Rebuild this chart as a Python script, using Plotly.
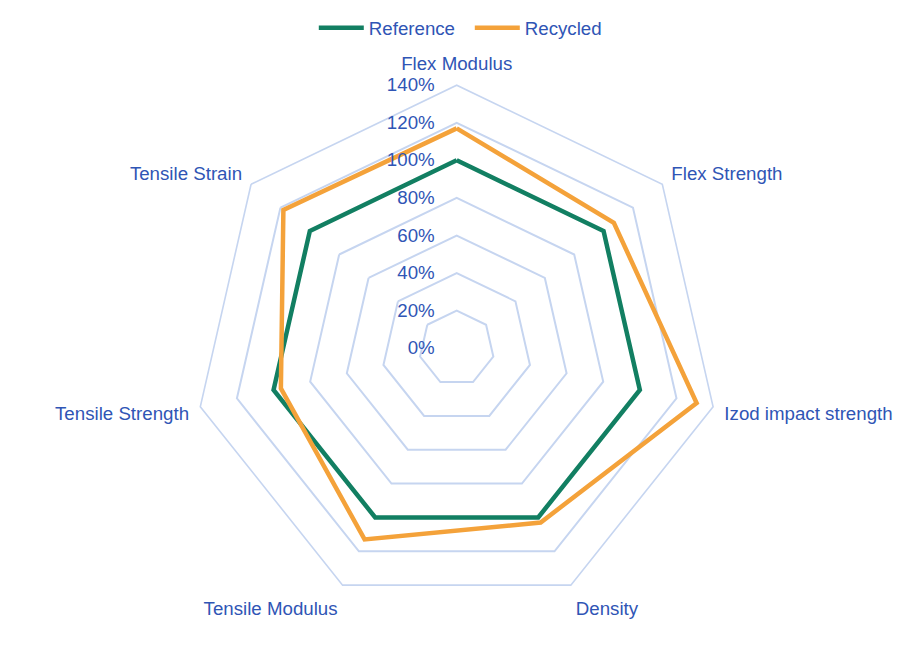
import plotly.graph_objects as go

categories = ["Flex Modulus", "Flex Strength", "Izod impact strength", "Density",
              "Tensile Modulus", "Tensile Strength", "Tensile Strain"]
reference = [100, 100, 100, 100, 100, 100, 100]
recycled = [117, 107, 131, 103, 113, 96, 118]
radial_ticks = [0, 20, 40, 60, 80, 100, 120, 140]
radial_labels = [f"{v}%" for v in radial_ticks]

TEXT = "#2F55B5"
GRID = "#C6D5F0"
FS = 18.7

def closed(vals):
    return list(vals) + [vals[0]]

fig = go.Figure()
fig.add_trace(go.Scatterpolar(r=closed(reference), theta=closed(categories), mode="lines",
                              name="Reference", line=dict(color="#127F62", width=4.5)))
fig.add_trace(go.Scatterpolar(r=closed(recycled), theta=closed(categories), mode="lines",
                              name="Recycled", line=dict(color="#F4A23A", width=4.5)))

fig.update_layout(
    width=914, height=652,
    margin=dict(l=0, r=0, t=0, b=0),
    paper_bgcolor="white",
    font=dict(family="Liberation Sans, Arial", size=FS, color=TEXT),
    showlegend=True,
    legend=dict(orientation="h", x=0.514, xanchor="center", y=0.986, yanchor="top",
                font=dict(size=FS, color=TEXT), itemwidth=45, entrywidth=96),
    polar=dict(
        domain=dict(x=[193.7/914, 719.7/914], y=[40.8/652, 566.8/652]),
        bgcolor="white",
        gridshape="linear",
        radialaxis=dict(range=[0, 140], tickvals=radial_ticks, ticktext=radial_labels,
                        angle=90, tickangle=90, showline=False,
                        ticks="outside", ticklen=15, tickcolor="rgba(0,0,0,0)",
                        gridcolor=GRID, gridwidth=1.6, side="counterclockwise",
                        tickfont=dict(size=FS, color=TEXT)),
        angularaxis=dict(rotation=90, direction="clockwise", showgrid=False,
                         showline=True, linecolor=GRID, linewidth=1.6,
                         ticks="outside", ticklen=7, tickcolor="rgba(0,0,0,0)",
                         tickfont=dict(size=FS, color=TEXT)),
    ),
)

fig.write_html("out.html", config={"displayModeBar": False},
               post_script="document.body.style.margin='0';")
